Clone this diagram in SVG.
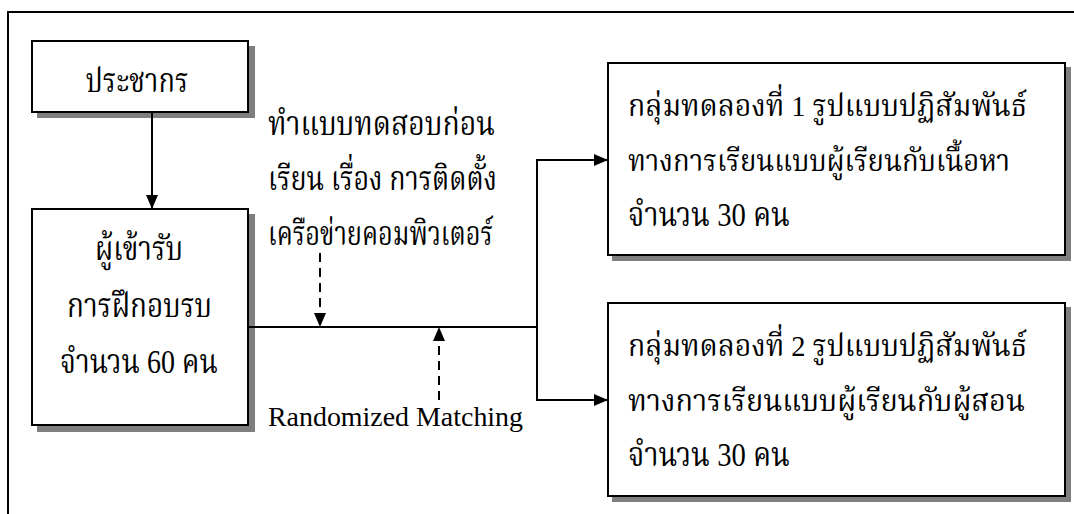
<svg xmlns="http://www.w3.org/2000/svg" width="1074" height="514" viewBox="0 0 1074 514">
<style>
.box{fill:#ffffff;stroke:#000000;stroke-width:2}
.shd{fill:#7f7f7f;stroke:none}
.ln{fill:none;stroke:#000;stroke-width:2}
.dash{fill:none;stroke:#000;stroke-width:2;stroke-dasharray:9 6}
.th{font-family:"Liberation Serif","Noto Serif Thai","Noto Sans Thai","DejaVu Serif",serif;font-size:34px;fill:#000}
.tr{font-family:"Liberation Serif","Noto Serif Thai","Noto Sans Thai","DejaVu Serif",serif;font-size:30px;fill:#000}
.en{font-family:"Liberation Serif","Times New Roman",serif;font-size:28px;fill:#000}
</style>
<defs>
<marker id="ah" markerUnits="userSpaceOnUse" markerWidth="14" markerHeight="12" refX="13" refY="6" orient="auto">
<path d="M0,0 L14,6 L0,12 z" fill="#000"/>
</marker>
</defs>
<rect width="1074" height="514" fill="#ffffff"/>
<path class="ln" d="M8,514 V12 H1074"/>

<g id="node-population">
<polygon class="shd" points="249,46 255,46 255,118 37,118 37,113 249,113"/>
<rect class="box" x="32" y="41" width="216" height="71"/>
<text class="th" x="137" y="92" text-anchor="middle" textLength="103" lengthAdjust="spacingAndGlyphs">ประชากร</text>
</g>

<g id="node-trainees">
<polygon class="shd" points="249,214 255,214 255,432 37,432 37,426 249,426"/>
<rect class="box" x="32" y="209" width="216" height="216"/>
<text class="th" x="139" y="260" text-anchor="middle" textLength="88" lengthAdjust="spacingAndGlyphs">ผู้เข้ารับ</text>
<text class="th" x="139.5" y="317" text-anchor="middle" textLength="145" lengthAdjust="spacingAndGlyphs">การฝึกอบรบ</text>
<text class="th" x="139" y="373" text-anchor="middle" textLength="158" lengthAdjust="spacingAndGlyphs">จำนวน 60 คน</text>
</g>

<g id="label-pretest">
<text class="th" x="268" y="135" textLength="227" lengthAdjust="spacingAndGlyphs">ทำแบบทดสอบก่อน</text>
<text class="th" x="268" y="190" textLength="229" lengthAdjust="spacingAndGlyphs">เรียน เรื่อง การติดตั้ง</text>
<text class="th" x="268" y="245" textLength="225" lengthAdjust="spacingAndGlyphs">เครือข่ายคอมพิวเตอร์</text>
</g>

<g id="label-matching">
<text class="en" x="268" y="426" textLength="255" lengthAdjust="spacingAndGlyphs">Randomized Matching</text>
</g>

<g id="node-group1">
<polygon class="shd" points="1066,67 1071,67 1071,261 612,261 612,256 1066,256"/>
<rect class="box" x="608" y="63" width="457" height="192"/>
<text class="tr" x="628" y="116" textLength="399" lengthAdjust="spacingAndGlyphs">กลุ่มทดลองที่ 1 รูปแบบปฏิสัมพันธ์</text>
<text class="tr" x="628" y="171" textLength="382" lengthAdjust="spacingAndGlyphs">ทางการเรียนแบบผู้เรียนกับเนื้อหา</text>
<text class="th" x="628" y="226" textLength="162" lengthAdjust="spacingAndGlyphs">จำนวน 30 คน</text>
</g>

<g id="node-group2">
<polygon class="shd" points="1066,307 1071,307 1071,502 612,502 612,497 1066,497"/>
<rect class="box" x="608" y="303" width="457" height="193"/>
<text class="tr" x="628" y="356" textLength="399" lengthAdjust="spacingAndGlyphs">กลุ่มทดลองที่ 2 รูปแบบปฏิสัมพันธ์</text>
<text class="tr" x="628" y="411" textLength="397" lengthAdjust="spacingAndGlyphs">ทางการเรียนแบบผู้เรียนกับผู้สอน</text>
<text class="th" x="628" y="466" textLength="162" lengthAdjust="spacingAndGlyphs">จำนวน 30 คน</text>
</g>

<g id="connectors">
<line class="ln" x1="152" y1="112" x2="152" y2="208" marker-end="url(#ah)"/>
<path class="ln" d="M248,327 H537"/>
<path class="ln" d="M537,327 V160 H607" marker-end="url(#ah)"/>
<path class="ln" d="M537,327 V400 H607" marker-end="url(#ah)"/>
<line class="dash" x1="320" y1="253" x2="320" y2="326" marker-end="url(#ah)"/>
<line class="dash" x1="439" y1="400" x2="439" y2="328" marker-end="url(#ah)"/>
</g>
</svg>
